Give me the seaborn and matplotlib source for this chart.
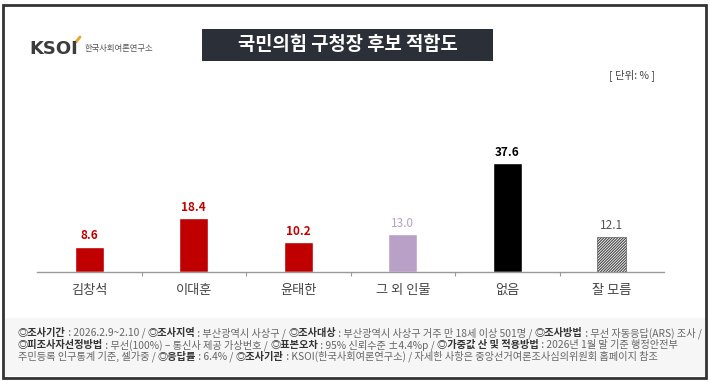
import matplotlib
matplotlib.use("Agg")
import matplotlib.pyplot as plt
import seaborn as sns
from matplotlib.patches import Rectangle

candidates = ["김창석", "이대훈", "윤태한", "그 외 인물", "없음", "잘 모름"]
support    = [8.6, 18.4, 10.2, 13.0, 37.6, 12.1]
bar_colors = ["#c00000", "#c00000", "#c00000", "#b9a0c6", "#000000", "#ffffff"]
txt_colors = ["#c00000", "#c00000", "#c00000", "#b9a0c6", "#000000", "#555555"]
txt_bold   = [True, True, True, False, True, False]

title = "국민의힘 구청장 후보 적합도"
unit_label = "[ 단위: % ]"

footer_lines = [
    [("◎조사기간", True), (" : 2026.2.9~2.10 / ", False),
     ("◎조사지역", True), (" : 부산광역시 사상구 / ", False),
     ("◎조사대상", True), (" : 부산광역시 사상구 거주 만 18세 이상 501명 / ", False),
     ("◎조사방법", True), (" : 무선 자동응답(ARS) 조사 /", False)],
    [("◎피조사자선정방법", True), (" : 무선(100%) – 통신사 제공 가상번호 / ", False),
     ("◎표본오차", True), (" : 95% 신뢰수준 ±4.4%p / ", False),
     ("◎가중값 산 및 적용방법", True), (" : 2026년 1월 말 기준 행정안전부", False)],
    [("주민등록 인구통계 기준, 셀가중 / ", False),
     ("◎응답률", True), (" : 6.4% / ", False),
     ("◎조사기관", True), (" : KSOI(한국사회여론연구소) / 자세한 사항은 중앙선거여론조사심의위원회 홈페이지 참조", False)],
]

sns.set_theme(style="white")
plt.rcParams["font.family"] = ["Noto Sans CJK KR", "DejaVu Sans"]
plt.rcParams["hatch.linewidth"] = 0.8
plt.rcParams["hatch.color"] = "#333333"

fig = plt.figure(figsize=(7.1, 3.81), dpi=100)
fig.patch.set_facecolor("white")
W, H = 710, 381

# outer frame + footer band
fig.patches.append(Rectangle((3 / W, 3 / H), 703 / W, 373 / H, transform=fig.transFigure,
                             facecolor="none", edgecolor="#333333", linewidth=2, zorder=5))
fig.patches.append(Rectangle((5 / W, 5 / H), 700 / W, 58 / H, transform=fig.transFigure,
                             facecolor="#f6f6f6", edgecolor="none", zorder=0))

ax = fig.add_axes([37 / W, 109.5 / H, 627 / W, 171.5 / H])
ax.set_facecolor("none")
sns.barplot(x=candidates, y=support, hue=candidates, palette=bar_colors,
            legend=False, width=0.28, ax=ax, saturation=1)
ax.patches[-1].set_hatch("////////////")
ax.patches[-1].set_edgecolor("#444444")
ax.patches[-1].set_linewidth(0.4)

for i, (v, c, b) in enumerate(zip(support, txt_colors, txt_bold)):
    ax.annotate(f"{v:.1f}", (i, v), xytext=(0, 3), textcoords="offset points",
                ha="center", va="bottom", fontsize=8.5, color=c,
                fontweight="bold" if b else "normal")

ax.set_xlim(-0.5, 5.5)
ax.set_ylim(0, 59.3)
ax.set_yticks([])
ax.set_xticks(range(len(candidates)))
ax.set_xticklabels(candidates, fontsize=9.5, color="#444444")
ax.tick_params(axis="x", which="major", length=0, pad=9)
ax.set_xticks([0.5, 1.5, 2.5, 3.5, 4.5], minor=True)
ax.tick_params(axis="x", which="minor", length=3, color="#999999", width=0.8, bottom=True)
for s in ["top", "right", "left"]:
    ax.spines[s].set_visible(False)
ax.spines["bottom"].set_color("#999999")
ax.spines["bottom"].set_linewidth(1)
ax.set_xlabel("")
ax.set_ylabel("")

# title box
fig.patches.append(Rectangle((202 / W, 1 - 61 / H), 291 / W, 32 / H, transform=fig.transFigure,
                             facecolor="#2b3038", edgecolor="none", zorder=1))
fig.text(347.5 / W, 1 - 45 / H, title, ha="center", va="center", fontsize=13.5,
         color="white", fontweight="bold", zorder=2)

# logo
fig.text(29 / W, 1 - 49 / H, "KSOI", ha="left", va="center", fontsize=13,
         color="#3c3c3c", fontweight="bold", family="DejaVu Sans")
fig.text(85 / W, 1 - 49 / H, "한국사회여론연구소", ha="left", va="center", fontsize=6,
         color="#555555")
fig.add_artist(plt.Line2D([76 / W, 80 / W], [1 - 42 / H, 1 - 37 / H], color="#f0a030",
                          linewidth=2, transform=fig.transFigure))

fig.text(655 / W, 1 - 75 / H, unit_label, ha="right", va="center", fontsize=7.5,
         color="#444444")

# footer
renderer = fig.canvas.get_renderer()
for k, line in enumerate(footer_lines):
    x = 18
    y = 1 - (333 + 11.8 * k) / H
    for seg, bold in line:
        t = fig.text(x / W, y, seg, ha="left", va="center", fontsize=7.35,
                     color="#333333" if bold else "#666666",
                     fontweight="bold" if bold else "normal")
        x += t.get_window_extent(renderer).width

fig.savefig("out.png", dpi=100)
